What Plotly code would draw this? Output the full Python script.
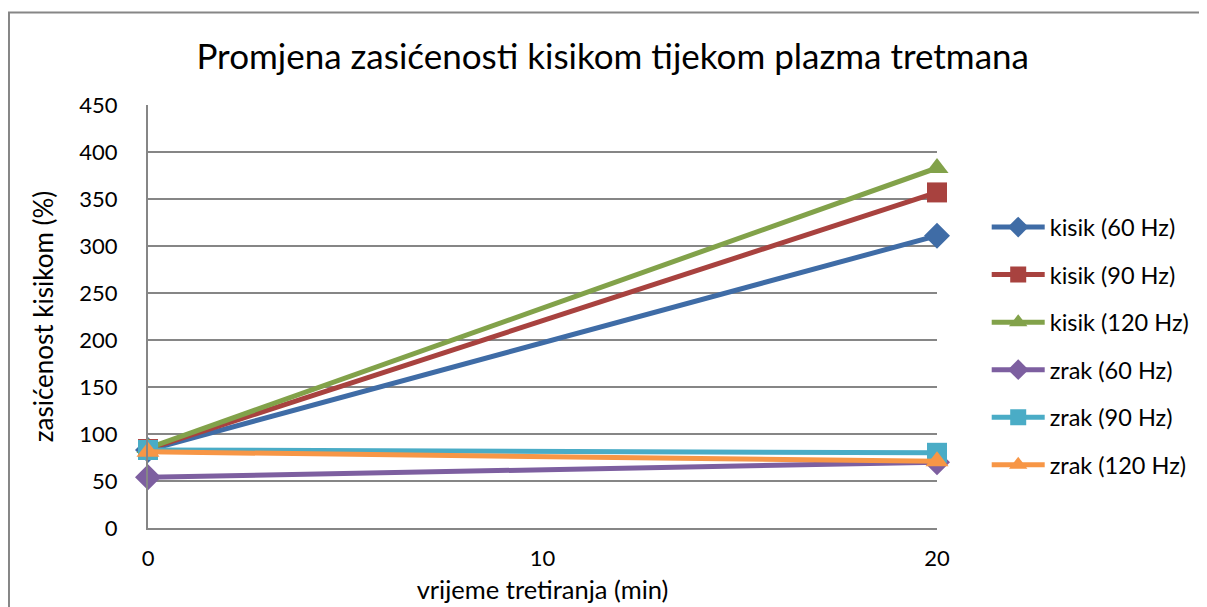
import plotly.graph_objects as go

# data
vrijeme = [0, 20]
kisik_60 = [83, 311]
kisik_90 = [84, 357]
kisik_120 = [85, 383]
zrak_60 = [54, 70]
zrak_90 = [83, 80]
zrak_120 = [81, 71]

series = [
    ("kisik (60 Hz)", kisik_60, "#3F6CA6", "diamond"),
    ("kisik (90 Hz)", kisik_90, "#A8423F", "square"),
    ("kisik (120 Hz)", kisik_120, "#82A24A", "triangle-up"),
    ("zrak (60 Hz)", zrak_60, "#7D5FA0", "diamond"),
    ("zrak (90 Hz)", zrak_90, "#4AACC6", "square"),
    ("zrak (120 Hz)", zrak_120, "#F79646", "triangle-up"),
]

fig = go.Figure()
for name, vals, color, symbol in series:
    fig.add_trace(go.Scatter(
        x=vrijeme, y=vals, name=name, mode="lines+markers",
        line=dict(color=color, width=5),
        marker=dict(symbol=symbol, size=20, color=color),
        legendgroup=name, cliponaxis=False))

font = "Lato, Open Sans, sans-serif"
# page body adds 8px offset, margins compensate for it
fig.update_layout(
    width=1207, height=607,
    margin=dict(l=140, r=278, t=97, b=87),
    plot_bgcolor="white", paper_bgcolor="white",
    font=dict(family=font, size=22, color="black"),
    title=dict(text="Promjena zasićenosti kisikom tijekom plazma tretmana",
               font=dict(size=35), x=0.501, xanchor="center", y=0.919, yanchor="middle"),
    legend=dict(x=1.063, y=0.763, xanchor="left", yanchor="top",
                font=dict(size=23.5), tracegroupgap=14, itemwidth=53,
                bgcolor="rgba(0,0,0,0)"),
    xaxis=dict(range=[0, 20], tickvals=[0, 10, 20], showgrid=False,
               ticks="", ticklabelstandoff=10, automargin=False,
               showline=True, linecolor="#868686", linewidth=2,
               title=dict(text="vrijeme tretiranja (min)", font=dict(size=25.5), standoff=11),
               zeroline=False),
    yaxis=dict(range=[0, 450], dtick=50, showgrid=True, gridcolor="#868686",
               gridwidth=2, ticks="outside", ticklen=24, tickcolor="rgba(0,0,0,0)",
               automargin=False,
               showline=True, linecolor="#868686", linewidth=2,
               title=dict(text="zasićenost kisikom (%)", font=dict(size=26), standoff=18),
               zeroline=False),
)

# outer chart border (right and bottom edges run off the page)
fig.add_shape(type="rect", xref="paper", yref="paper",
              x0=-0.1762, x1=3, y0=-0.4, y1=1.2187,
              line=dict(color="#868686", width=2), layer="below")

fig.write_html("out.html")
